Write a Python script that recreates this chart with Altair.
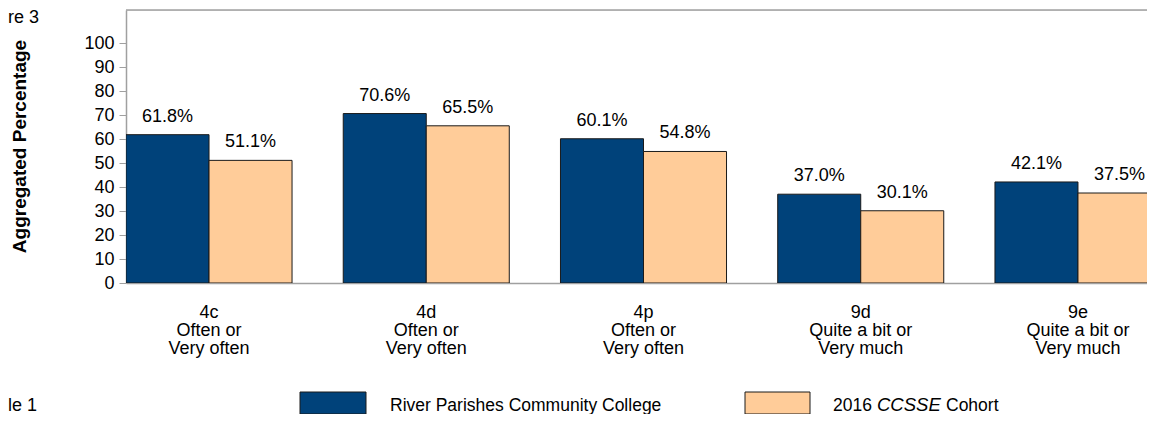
import altair as alt
import pandas as pd

# ---- data ----
groups = ["4c", "4d", "4p", "9d", "9e"]
descriptions = ["Often or|Very often", "Often or|Very often", "Often or|Very often",
                "Quite a bit or|Very much", "Quite a bit or|Very much"]
series = ["River Parishes Community College", "2016 CCSSE Cohort"]
college = [61.8, 70.6, 60.1, 37.0, 42.1]
cohort = [51.1, 65.5, 54.8, 30.1, 37.5]
y_ticks = [0, 10, 20, 30, 40, 50, 60, 70, 80, 90, 100]
y_title = "Aggregated Percentage"
fig_fragment = "re 3"     # visible part of "Figure 3"
table_fragment = "le 1"   # visible part of "Table 1"

# ---- styles / layout ----
FONT = "Liberation Sans"
COLORS = ["#00427A", "#FFCC99"]
AXIS_GRAY = "#a0a0a0"
W, H = 1021, 273
YMAX = 113.75

labels = [g + "|" + d for g, d in zip(groups, descriptions)]
rows = []
for lab, a, b in zip(labels, college, cohort):
    rows.append({"group": lab, "series": series[0], "value": a})
    rows.append({"group": lab, "series": series[1], "value": b})
df = pd.DataFrame(rows)

x_enc = alt.X(
    "group:N",
    sort=labels,
    scale=alt.Scale(range=[0, 1035], paddingInner=0.2357, paddingOuter=0),
    axis=alt.Axis(
        title=None, ticks=False, domainColor=AXIS_GRAY, domainWidth=1.5,
        labelExpr="split(datum.label, '|')", labelAngle=0,
        labelFont=FONT, labelFontSize=18, labelColor="black",
        labelPadding=20, labelLineHeight=18, labelBaseline="top",
    ),
)
xoff = alt.XOffset("series:N", sort=series, scale=alt.Scale(paddingInner=0, paddingOuter=0))
y_enc = alt.Y(
    "value:Q",
    scale=alt.Scale(domain=[0, YMAX], nice=False),
    axis=alt.Axis(
        values=y_ticks, grid=False, domainColor=AXIS_GRAY, domainWidth=1.5,
        tickColor=AXIS_GRAY, tickSize=7, labelPadding=5, labelOverlap=False,
        labelFont=FONT, labelFontSize=18, labelColor="black",
        title=y_title, titleFont=FONT, titleFontSize=19, titleFontWeight="bold",
        titleColor="black", titleX=-107, titleY=136, titleAngle=-90,
        titleAlign="center", titleBaseline="middle", titleAnchor="middle",
    ),
)
color = alt.Color("series:N", scale=alt.Scale(domain=series, range=COLORS), legend=None)

base = alt.Chart(df)
bars = base.mark_bar(stroke="#1a1a1a", strokeWidth=1, clip=True).encode(
    x=x_enc, xOffset=xoff, y=y_enc, color=color
)
texts = base.transform_calculate(
    lbl="format(datum.value, '.1f') + '%'"
).mark_text(font=FONT, fontSize=18, baseline="bottom", dy=-9, color="black").encode(
    x=x_enc, xOffset=xoff, y=y_enc, text="lbl:N"
)

one = pd.DataFrame({"k": [0]})
top_line = alt.Chart(one).mark_rule(color=AXIS_GRAY, strokeWidth=1.5).encode(
    x=alt.value(0), x2=alt.value(W), y=alt.value(0)
)

# legend (manual, so the italic part can be kept)
leg_y0, leg_y1 = 382, 404
leg1_box = alt.Chart(one).mark_rect(fill=COLORS[0], stroke="#1a1a1a", strokeWidth=1).encode(
    x=alt.value(174), x2=alt.value(240), y=alt.value(leg_y0), y2=alt.value(leg_y1)
)
leg2_box = alt.Chart(one).mark_rect(fill=COLORS[1], stroke="#1a1a1a", strokeWidth=1).encode(
    x=alt.value(619), x2=alt.value(684), y=alt.value(leg_y0), y2=alt.value(leg_y1)
)

def txt(t, x, y, italic=False, align="left", size=18):
    return alt.Chart(pd.DataFrame({"t": [t]})).mark_text(
        font=FONT, fontSize=size, align=align, baseline="alphabetic", color="black",
        fontStyle="italic" if italic else "normal",
    ).encode(x=alt.value(x), y=alt.value(y), text="t:N")

cohort_parts = series[1].split(" ")  # ["2016", "CCSSE", "Cohort"]
LEG_BASE = 401
leg1_txt = txt(series[0], 264, LEG_BASE, size=17.5)
leg2_a = txt(cohort_parts[0], 707, LEG_BASE, size=17.5)
leg2_b = txt(cohort_parts[1], 751, LEG_BASE, italic=True, size=18.5)
leg2_c = txt(cohort_parts[2], 820, LEG_BASE, size=17.5)

fig_txt = txt(fig_fragment, -118, 13)
tab_txt = txt(table_fragment, -118, 401)

chart = alt.layer(
    bars, texts, top_line, leg1_box, leg2_box, leg1_txt, leg2_a, leg2_b, leg2_c,
    fig_txt, tab_txt,
).properties(
    width=W, height=H,
    autosize=alt.AutoSizeParams(type="none"),
    padding={"left": 118, "top": 2, "right": 0, "bottom": 131},
).configure_view(stroke=None).configure(background="white")

chart.save("out.html", embed_options={"renderer": "svg", "actions": False})
